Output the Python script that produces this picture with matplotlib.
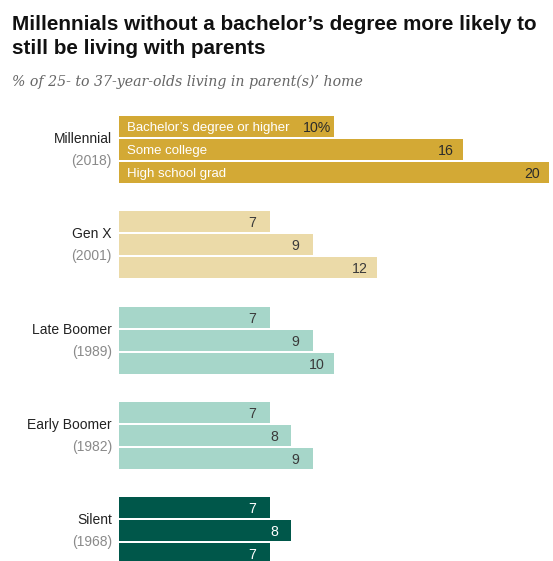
import matplotlib.pyplot as plt

# Data
generations = ['Millennial', 'Gen X', 'Late Boomer', 'Early Boomer', 'Silent']
years = ['(2018)', '(2001)', '(1989)', '(1982)', '(1968)']
education = ['Bachelor\u2019s degree or higher', 'Some college', 'High school grad']
bachelor = [10, 7, 7, 7, 7]
some_college = [16, 9, 9, 8, 8]
high_school = [20, 12, 10, 9, 7]

colors = ['#D3A935', '#EBDAA8', '#A6D6C9', '#A6D6C9', '#00574A']
label_colors = ['#2b2b2b', '#3a3a3a', '#3a3a3a', '#3a3a3a', 'white']

W, H = 553, 561
fig = plt.figure(figsize=(W / 100, H / 100), dpi=100)

# axes in pixel-like units: x in percent, y in pixels from top
px_per_unit = 21.5
ax_left, ax_top = 119, 100
ax = fig.add_axes([ax_left / W, 0, (W - ax_left) / W, (H - ax_top) / H])
ax.set_xlim(0, (W - ax_left) / px_per_unit)
ax.set_ylim(H, ax_top)
ax.axis('off')

group_step = 95.3
bar_step = 23
first_center = 126.5
bar_h = 21

series = [bachelor, some_college, high_school]
for g, gen in enumerate(generations):
    for i, vals in enumerate(series):
        yc = first_center + g * group_step + i * bar_step
        v = vals[g]
        ax.barh(yc, v, height=bar_h, color=colors[g], edgecolor='none')
        txt = f'{v}%' if (g == 0 and i == 0) else str(v)
        ax.annotate(txt, (v, yc), xytext=(-17, 0), textcoords='offset pixels',
                    ha='center', va='center_baseline', fontsize=10.2, color=label_colors[g],
                    family='Liberation Sans')
        if g == 0:
            ax.annotate(education[i], (0, yc), xytext=(8, 0), textcoords='offset pixels',
                        ha='left', va='center_baseline', fontsize=9.5, color='white',
                        family='Liberation Sans')
    ymid = first_center + g * group_step + bar_step
    fig.text(112 / W, 1 - (ymid - 12) / H, gen, ha='right', va='center_baseline',
             fontsize=10, color='#222222', family='Liberation Sans')
    fig.text(112 / W, 1 - (ymid + 10) / H, years[g], ha='right', va='center_baseline',
             fontsize=10, color='#8a8a8a', family='Liberation Sans')

fig.text(12 / W, 1 - 22 / H, 'Millennials without a bachelor\u2019s degree more likely to',
         ha='left', va='center_baseline', fontsize=14.9, fontweight='bold', color='#111111',
         family='Liberation Sans')
fig.text(12 / W, 1 - 47 / H, 'still be living with parents',
         ha='left', va='center_baseline', fontsize=14.9, fontweight='bold', color='#111111',
         family='Liberation Sans')
fig.text(12 / W, 1 - 80 / H, '% of 25- to 37-year-olds living in parent(s)\u2019 home',
         ha='left', va='center_baseline', fontsize=10.2, style='italic', color='#666666',
         family='DejaVu Serif')

fig.savefig('out.png', dpi=100)
